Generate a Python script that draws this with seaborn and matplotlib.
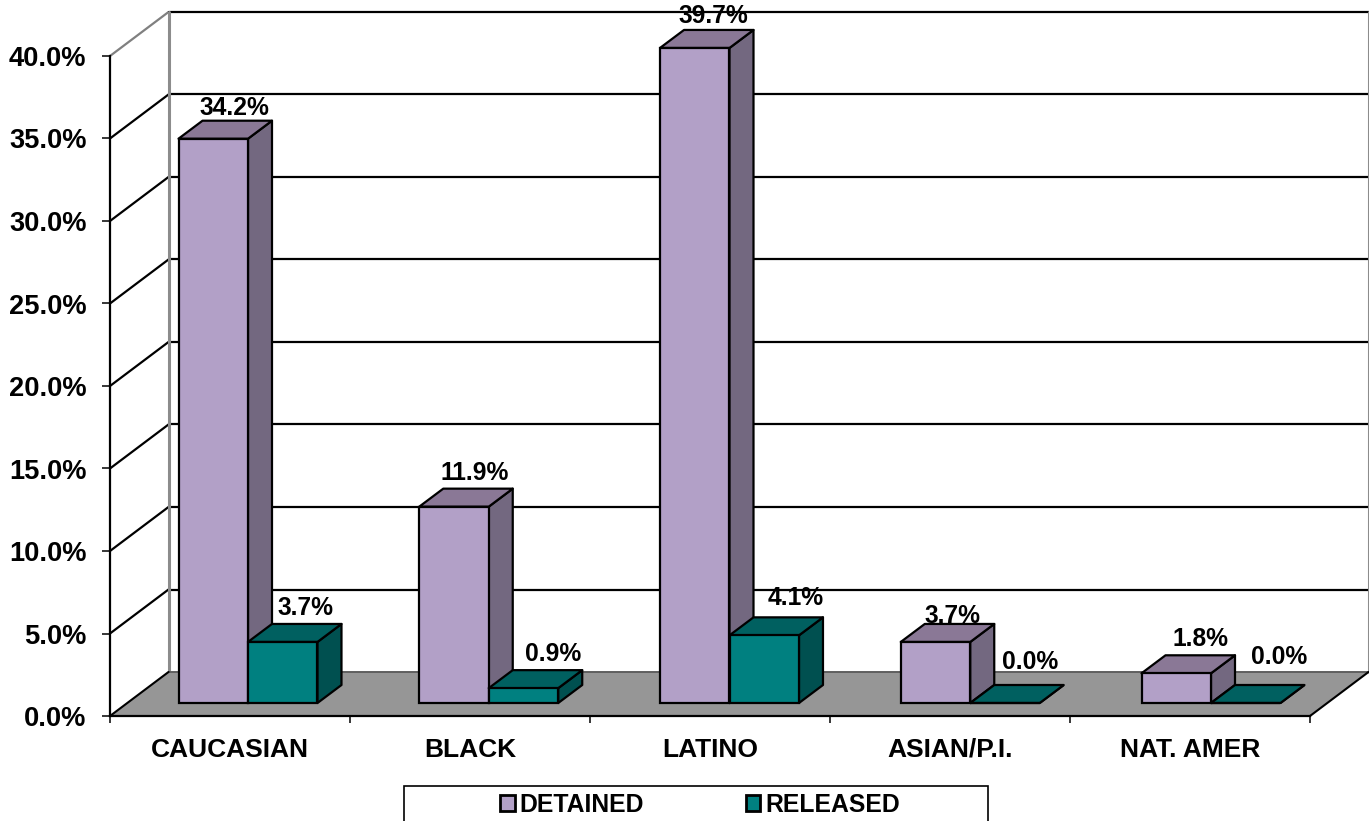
import matplotlib
matplotlib.use("Agg")
import matplotlib.pyplot as plt
from matplotlib.patches import Patch, Polygon, Rectangle
import pandas as pd
import seaborn as sns

categories = ["CAUCASIAN", "BLACK", "LATINO", "ASIAN/P.I.", "NAT. AMER"]
detained = [34.2, 11.9, 39.7, 3.7, 1.8]
released = [3.7, 0.9, 4.1, 0.0, 0.0]
series_names = ["DETAINED", "RELEASED"]
y_ticks = [0, 5, 10, 15, 20, 25, 30, 35, 40]

W, H = 1369, 821
L, R, T, B = 110, 1310, 56, 716
PX = 5 / (R - L)           # data units per pixel, x
PY = 40 / (B - T)          # data units per pixel, y
FACE = {"DETAINED": "#B2A0C7", "RELEASED": "#008080"}
TOPC = {"DETAINED": "#8A7896", "RELEASED": "#006060"}
SIDE = {"DETAINED": "#736880", "RELEASED": "#005050"}
FS_Y, FS_X, FS_LABEL, FS_LEG = 19.6, 19.0, 17.7, 17.8

sns.set_theme(style="white")
plt.rcParams["font.family"] = ["Liberation Sans", "DejaVu Sans"]
plt.rcParams["font.weight"] = "bold"
plt.rcParams["text.color"] = "black"

df = pd.DataFrame({
    "category": categories * 2,
    "series": [series_names[0]] * 5 + [series_names[1]] * 5,
    "value": detained + released,
})

fig = plt.figure(figsize=(W / 100, H / 100), dpi=100, facecolor="white")
ax = fig.add_axes([L / W, 1 - B / H, (R - L) / W, (B - T) / H])
sns.barplot(data=df, x="category", y="value", hue="series", hue_order=series_names,
            palette=FACE, width=0.579, saturation=1, legend=False, ax=ax,
            edgecolor="black", linewidth=1.6, errorbar=None, zorder=5)
ax.set_xlim(-0.5, 4.5)
ax.set_ylim(0, 40)
ax.set_xlabel("")
ax.set_ylabel("")

# 3-D walls and floor
DX, DY = 58.5 * PX, 44 * PY
for v in y_ticks[1:]:
    col = "#808080" if v == 40 else "black"
    ax.plot([-0.5, -0.5 + DX], [v, v + DY], color=col, lw=1.6, clip_on=False, zorder=1)
    ax.plot([-0.5 + DX, 4.5 + DX], [v + DY, v + DY], color="black", lw=1.6, clip_on=False, zorder=1)
ax.plot([-0.5 + DX, -0.5 + DX], [DY, 40 + DY], color="#8c8c8c", lw=2.2, clip_on=False, zorder=1.2)
ax.plot([4.5 + DX, 4.5 + DX], [DY, 40 + DY], color="#8c8c8c", lw=2.2, clip_on=False, zorder=1.2)
ax.add_patch(Polygon([(-0.5, 0), (4.5, 0), (4.5 + DX, DY), (-0.5 + DX, DY)], closed=True,
                     facecolor="#969696", edgecolor="none", clip_on=False, zorder=1.5))
ax.plot([-0.5 + DX, 4.5 + DX], [DY, DY], color="#5f5f5f", lw=1.4, clip_on=False, zorder=1.6)
ax.plot([-0.5, -0.5 + DX], [0, DY], color="black", lw=1.5, clip_on=False, zorder=1.7)
ax.plot([4.5, 4.5 + DX], [0, DY], color="black", lw=1.5, clip_on=False, zorder=1.7)

# bars: shift seaborn's front faces into the floor, then add top and side faces
SHIFT_Y = 13 * PY
BX, BY = 24 * PX, 18 * PY
values = detained + released
names = df["series"].tolist()
label_nudge = [(21, 13), (21, 16), (19, 14), (17, 8), (24, 16),
               (23, 16), (30, 16), (31, 19), (25, 23), (33, 28)]
for i, (p, v, name) in enumerate(zip(ax.patches, values, names)):
    p.set_x(p.get_x() + (18 + 0.75 * (i % 5)) * PX)
    p.set_y(SHIFT_Y)
    p.set_clip_on(False)
    z = 3 if name == series_names[0] else 4
    p.set_zorder(z + 0.2)
    x0, x1 = p.get_x(), p.get_x() + p.get_width()
    y0, y1 = SHIFT_Y, SHIFT_Y + v
    ax.add_patch(Polygon([(x1, y0), (x1 + BX, y0 + BY), (x1 + BX, y1 + BY), (x1, y1)], closed=True,
                         facecolor=SIDE[name], edgecolor="black", lw=1.6, joinstyle="round",
                         clip_on=False, zorder=z))
    ax.add_patch(Polygon([(x0, y1), (x0 + BX, y1 + BY), (x1 + BX, y1 + BY), (x1, y1)], closed=True,
                         facecolor=TOPC[name], edgecolor="black", lw=1.6, joinstyle="round",
                         clip_on=False, zorder=z + 0.1))
    nx, ny = label_nudge[i]
    ax.annotate(f"{v:.1f}%", xy=((x0 + x1) / 2, y1 + BY), xytext=(nx * 0.72, ny * 0.72),
                textcoords="offset points", ha="center", va="center", fontsize=FS_LABEL,
                fontweight="bold", color="black", zorder=10, annotation_clip=False)

# axes
for s in ("top", "right"):
    ax.spines[s].set_visible(False)
for s in ("left", "bottom"):
    ax.spines[s].set_color("black")
    ax.spines[s].set_linewidth(1.6)
    ax.spines[s].set_zorder(6)
ax.set_yticks(y_ticks)
ax.set_yticklabels([f"{v:.1f}%" for v in y_ticks], fontsize=FS_Y, fontweight="bold", color="black")
ax.set_xticks(range(5))
ax.set_xticklabels(categories, fontsize=FS_X, fontweight="bold", color="black")
ax.set_xticks([i - 0.5 for i in range(6)], minor=True)
ax.tick_params(axis="y", left=True, length=6, width=1.1, pad=11, color="black")
ax.tick_params(axis="x", which="major", bottom=False, length=0, pad=15.5)
ax.tick_params(axis="x", which="minor", bottom=True, length=5, width=1.1, color="black")

# legend
fig.add_artist(Rectangle((404 / W, -0.02), 584 / W, 1 - 786 / H + 0.02, transform=fig.transFigure,
                         facecolor="white", edgecolor="black", lw=1.2))
handles = [Patch(facecolor=FACE[n], edgecolor="black", lw=2.0, label=n) for n in series_names]
leg = fig.legend(handles=handles, ncol=2, frameon=False, loc="center left",
                 bbox_to_anchor=(500 / W, 1 - 805 / H), borderaxespad=0, borderpad=0,
                 fontsize=FS_LEG, handlelength=0.6, handleheight=0.6, handletextpad=0.2,
                 columnspacing=4.1)
for t in leg.get_texts():
    t.set_fontweight("bold")
    t.set_color("black")

fig.savefig("out.png", dpi=100, facecolor="white")
